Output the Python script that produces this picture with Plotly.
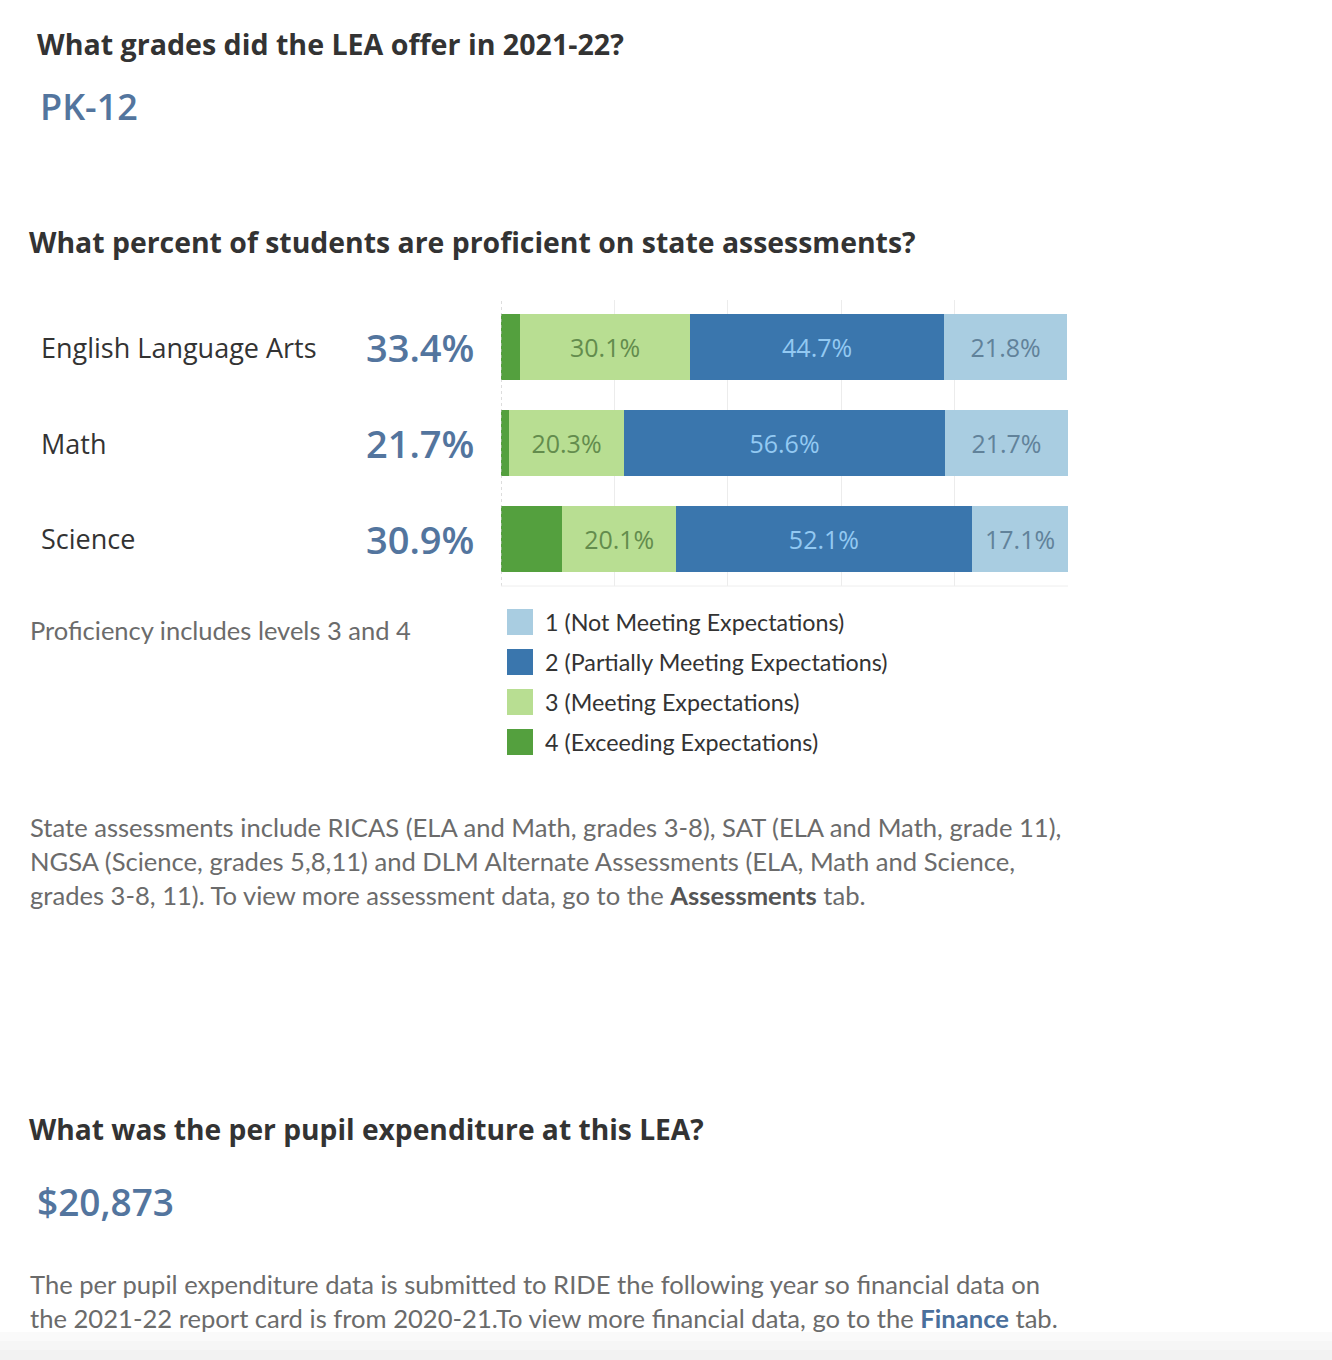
import plotly.graph_objects as go

# ---------------- data ----------------
subjects = ["English Language Arts", "Math", "Science"]
level4 = [3.3, 1.4, 10.8]     # 4 (Exceeding Expectations)
level3 = [30.1, 20.3, 20.1]   # 3 (Meeting Expectations)
level2 = [44.7, 56.6, 52.1]   # 2 (Partially Meeting Expectations)
level1 = [21.8, 21.7, 17.1]   # 1 (Not Meeting Expectations)
proficient = [33.4, 21.7, 30.9]
level_names = ["1 (Not Meeting Expectations)", "2 (Partially Meeting Expectations)",
               "3 (Meeting Expectations)", "4 (Exceeding Expectations)"]
grades_offered = "PK-12"
per_pupil = "$20,873"

# ---------------- styles ----------------
C4, C3, C2, C1 = "#54a03e", "#b8de92", "#3a76ad", "#a9cde1"
T3, T2, T1 = "#638c4d", "#93c9f2", "#61829a"
BLUE = "#53759e"
DARK = "#333333"
GREY = "#6b6b6b"
BODY = "Lato, 'Open Sans', sans-serif"
HEAD = "'Open Sans', Lato, sans-serif"
LABEL = "'Open Sans', 'Noto Sans', sans-serif"

fig = go.Figure()
series = [
    (level4, C4, None, level_names[3]),
    (level3, C3, T3, level_names[2]),
    (level2, C2, T2, level_names[1]),
    (level1, C1, T1, level_names[0]),
]
for vals, col, tcol, name in series:
    fig.add_trace(go.Bar(
        y=subjects, x=vals, orientation="h", name=name,
        marker=dict(color=col, line=dict(width=0)),
        text=[f"{v:.1f}%" for v in vals] if tcol else None,
        textposition="inside" if tcol else "none",
        insidetextanchor="middle",
        textfont=dict(color=tcol or "#000", size=25, family=LABEL),
        width=0.69, showlegend=False, hoverinfo="x+name",
    ))

W, H = 1332, 1360
def px(x): return x / W
def py(y): return 1 - y / H

fig.update_layout(
    width=W, height=H, margin=dict(l=0, r=0, t=0, b=0),
    paper_bgcolor="white", plot_bgcolor="white",
    barmode="stack", bargap=0.3,
    uniformtext=dict(minsize=10, mode="show"),
    xaxis=dict(domain=[px(501), px(1068)], range=[0, 100], dtick=20,
               showgrid=True, gridcolor="#ececec", gridwidth=1,
               zeroline=False, showticklabels=False, ticks="",
               showline=False, fixedrange=True),
    yaxis=dict(domain=[py(586), py(300)], range=[2.49, -0.49],
               showticklabels=False, ticks="", showgrid=False,
               zeroline=False, showline=False, fixedrange=True),
    showlegend=False,
)

shapes = []
# dotted left axis line and faint bottom line
shapes.append(dict(type="line", xref="x", yref="paper", x0=0, x1=0,
                   y0=py(586), y1=py(300), line=dict(color="#bbbbbb", width=1, dash="dot")))
shapes.append(dict(type="line", xref="paper", yref="paper", x0=px(501), x1=px(1068),
                   y0=py(586), y1=py(586), line=dict(color="#eeeeee", width=1)))
# legend swatches
sw_colors = [C1, C2, C3, C4]
for i, c in enumerate(sw_colors):
    y0 = 609 + i * 40
    shapes.append(dict(type="rect", xref="paper", yref="paper",
                       x0=px(507), x1=px(533), y0=py(y0 + 26), y1=py(y0),
                       fillcolor=c, line=dict(width=0)))
# subtle bottom shade
for k, c in enumerate(["#fafafa", "#f6f6f6", "#f2f2f2"]):
    shapes.append(dict(type="rect", xref="paper", yref="paper", x0=0, x1=1,
                       y0=0, y1=py(1332 + k * 9), fillcolor=c, line=dict(width=0), layer="below"))
fig.update_layout(shapes=shapes)

ann = []
def text(x, y, s, size, color, family=BODY, xanchor="left", bold=False, weight=None):
    if bold:
        s = f"<b>{s}</b>"
    f = dict(size=size, color=color, family=family)
    if weight:
        f["weight"] = weight
    ann.append(dict(x=px(x), y=py(y), xref="paper", yref="paper", text=s, showarrow=False,
                    xanchor=xanchor, yanchor="middle", align="left", font=f))

text(35, 44, "What grades did the LEA offer in 2021-22?", 28.6, DARK, family=HEAD, bold=True)
text(38, 107, grades_offered, 36, BLUE, family=LABEL, weight=600)
text(27, 242, "What percent of students are proficient on state assessments?", 28.4, DARK, family=HEAD, bold=True)

for subj, p in zip(subjects, proficient):
    ann.append(dict(x=px(39), y=subj, xref="paper", yref="y", text=subj, showarrow=False,
                    xanchor="left", yanchor="middle",
                    font=dict(size=27, color=DARK, family=LABEL)))
    ann.append(dict(x=px(476), y=subj, xref="paper", yref="y", text=f"{p:.1f}%", showarrow=False,
                    xanchor="right", yanchor="middle",
                    font=dict(size=38, color=BLUE, family=LABEL, weight=600)))

text(28, 630, "Proficiency includes levels 3 and 4", 25.5, GREY)
for i, name in enumerate(level_names):
    text(543, 622 + i * 40, name, 23.3, DARK)

text(28, 827, "State assessments include RICAS (ELA and Math, grades 3-8), SAT (ELA and Math, grade 11),", 25.6, GREY)
text(28, 861, "NGSA (Science, grades 5,8,11) and DLM Alternate Assessments (ELA, Math and Science,", 25.6, GREY)
text(28, 895, "grades 3-8, 11). To view more assessment data, go to the <b><span style='color:#555'>Assessments</span></b> tab.", 25.6, GREY)

text(27, 1129, "What was the per pupil expenditure at this LEA?", 28.2, DARK, family=HEAD, bold=True)
text(35, 1201, per_pupil, 37, BLUE, family=LABEL, weight=600)
text(28, 1284, "The per pupil expenditure data is submitted to RIDE the following year so financial data on", 25.6, GREY)
text(28, 1318, "the 2021-22 report card is from 2020-21.To view more financial data, go to the <b><span style='color:#4a6f9c'>Finance</span></b> tab.", 25.6, GREY)

fig.update_layout(annotations=ann)

fig.write_html("out.html", config={"displayModeBar": False},
               post_script="document.body.style.margin='0';document.body.style.overflow='hidden';")
